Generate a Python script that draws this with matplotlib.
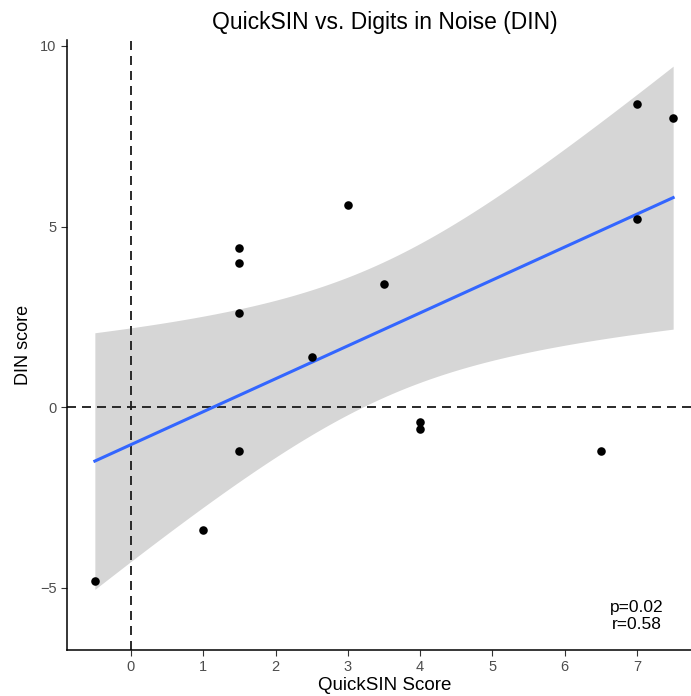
import numpy as np
import matplotlib
matplotlib.use("Agg")
import matplotlib.pyplot as plt

plt.rcParams['font.family'] = ['Liberation Sans', 'DejaVu Sans']

quicksin = [-0.5, 1.0, 1.5, 1.5, 1.5, 1.5, 2.5, 3.0, 3.5, 4.0, 4.0, 6.5, 7.0, 7.0, 7.5]
din = [-4.8, -3.4, 4.4, 4.0, 2.6, -1.2, 1.4, 5.6, 3.4, -0.4, -0.6, -1.2, 8.4, 5.2, 8.0]
xticks = [0, 1, 2, 3, 4, 5, 6, 7]
yticks = [-5, 0, 5, 10]
stats_label = "p=0.02\nr=0.58"

x = np.array(quicksin)
y = np.array(din)
n = len(x)
slope, intercept = np.polyfit(x, y, 1)
resid = y - (slope * x + intercept)
s = np.sqrt(np.sum(resid ** 2) / (n - 2))
xm = x.mean()
sxx = np.sum((x - xm) ** 2)
t_crit = 2.160  # t(0.975, df=13)
xs = np.linspace(x.min(), x.max(), 200)
yhat = slope * xs + intercept
se = s * np.sqrt(1.0 / n + (xs - xm) ** 2 / sxx)

fig = plt.figure(figsize=(6.91, 6.96), dpi=100)
# panel extends slightly past the right edge (reference is cropped there)
ax = fig.add_axes([0.097, 0.066, 0.919, 0.877])

ax.fill_between(xs, yhat - t_crit * se, yhat + t_crit * se, color='#999999', alpha=0.4,
                linewidth=0, zorder=1)
ax.axhline(0, color='#222222', linestyle=(0, (4.8, 3.2)), linewidth=1.35, zorder=2)
ax.axvline(0, color='#222222', linestyle=(0, (4.8, 3.2)), linewidth=1.35, zorder=2)
ax.plot(xs, yhat, color='#3366FF', linewidth=2.2, zorder=3)
ax.scatter(x, y, s=38, color='black', zorder=4, linewidths=0)

ax.set_xlim(-0.885, 7.9)
ax.set_ylim(-6.72, 10.17)
ax.set_xticks(xticks)
ax.set_yticks(yticks)
ax.set_yticklabels([str(v).replace('-', '\u2212') for v in yticks])

for side in ['top', 'right']:
    ax.spines[side].set_visible(False)
for side in ['left', 'bottom']:
    ax.spines[side].set_linewidth(1.1)
    ax.spines[side].set_color('black')
ax.tick_params(axis='both', colors='#333333', labelcolor='#4D4D4D', labelsize=10.5,
               length=4, width=0.8, direction='out')

ax.set_xlabel('QuickSIN Score', fontsize=13.5, labelpad=2)
ax.set_ylabel('DIN score', fontsize=13, labelpad=6)
ax.set_title('QuickSIN vs. Digits in Noise (DIN)', fontsize=16.5, pad=8)

ax.text(7.0, -5.78, stats_label, ha='center', va='center', fontsize=12.5, linespacing=1.1)

fig.savefig('out.png', dpi=100)
